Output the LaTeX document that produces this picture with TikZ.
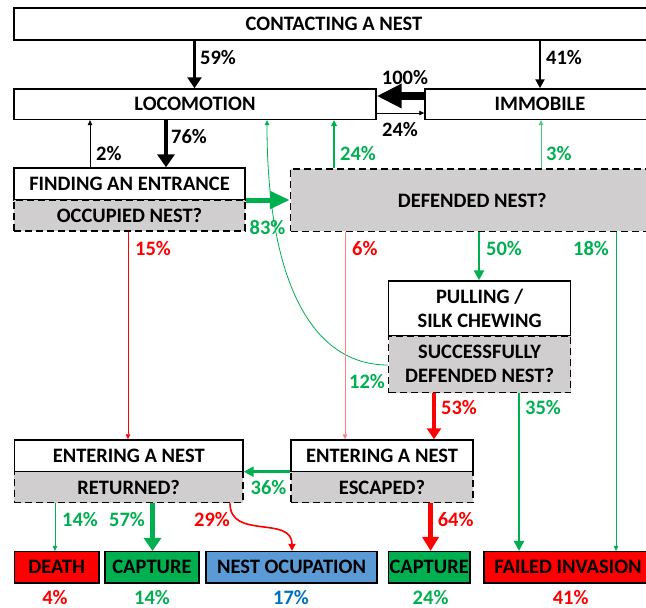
\documentclass[tikz,border=0pt]{standalone}
\usepackage{fontspec}
\setmainfont{Carlito}
\usetikzlibrary{arrows.meta,calc}
\definecolor{gr}{HTML}{00B050}
\definecolor{lgr}{HTML}{4CC985}
\definecolor{rd}{HTML}{FF0000}
\definecolor{lrd}{HTML}{FF8080}
\definecolor{bl}{HTML}{0070C0}
\definecolor{blfill}{HTML}{5B9BD5}
\definecolor{gy}{HTML}{D0CECE}
\begin{document}
\begin{tikzpicture}[x=1pt,y=-1pt,
  box/.style={draw, line width=1.4pt, inner sep=0pt, align=center,
    font=\fontsize{20.5}{24}\selectfont\bfseries},
  qbox/.style={box, fill=gy, dash pattern=on 7pt off 4pt},
  endbox/.style={box, minimum height=31.3pt},
  lab/.style={anchor=west, inner sep=0pt, font=\fontsize{20.5}{24}\selectfont\bfseries},
  clab/.style={anchor=center, inner sep=0pt, font=\fontsize{20.5}{24}\selectfont\bfseries},
  ln/.style={line width=0.8pt, -{Triangle[length=5pt,width=4.5pt]}},
  md/.style={line width=2.2pt, -{Triangle[length=9pt,width=9pt]}},
  tk/.style={line width=3.2pt, -{Triangle[length=11pt,width=14pt]}},
  vtk/.style={line width=4.2pt, -{Triangle[length=13pt,width=17pt]}}]
\useasboundingbox (0,0) rectangle (646,608);
\fill[white] (0,0) rectangle (646,608);

% boxes
\node[box, minimum width=646pt, minimum height=32pt] (top) at (337,24) {\hspace*{-6pt}CONTACTING A NEST};
\node[box, minimum width=362pt, minimum height=30.5pt] (loc) at (195,104.2) {LOCOMOTION};
\node[box, minimum width=235pt, minimum height=30.5pt] (imm) at (542.5,104.2) {\hspace*{-5pt}IMMOBILE};
\node[box, minimum width=231pt, minimum height=32pt] (find) at (129.5,184) {FINDING AN ENTRANCE};
\node[qbox, minimum width=231pt, minimum height=31pt] (occ) at (129.5,215.5) {OCCUPIED NEST?};
\node[qbox, minimum width=369.5pt, minimum height=62.5pt] (def) at (475.25,200.2) {\hspace*{-6pt}DEFENDED NEST?};
\node[box, minimum width=182.2pt, minimum height=55pt] (pull) at (479.6,308.5) {PULLING /\\SILK CHEWING};
\node[qbox, minimum width=182.2pt, minimum height=56.7pt] (succ) at (479.6,364.3) {SUCCESSFULLY\\DEFENDED NEST?};
\node[box, minimum width=228.6pt, minimum height=31.7pt] (entl) at (128.7,455.8) {ENTERING A NEST};
\node[qbox, minimum width=228.6pt, minimum height=31pt] (ret) at (128.7,487.2) {RETURNED?};
\node[box, minimum width=182pt, minimum height=31.7pt] (entr) at (382,455.8) {ENTERING A NEST};
\node[qbox, minimum width=182pt, minimum height=31pt] (esc) at (382,487.2) {ESCAPED?};

\node[endbox, fill=rd, minimum width=84.6pt] (death) at (56.7,567.3) {DEATH};
\node[endbox, fill=gr, minimum width=94pt] (cap1) at (152,567.3) {CAPTURE};
\node[endbox, fill=blfill, minimum width=171pt] (nest) at (291.5,567.3) {NEST OCUPATION};
\node[endbox, fill=gr, minimum width=81.5pt] (cap2) at (429.2,567.3) {CAPTURE};
\node[endbox, fill=rd, minimum width=176pt] (fail) at (572,567.3) {\hspace*{-8pt}FAILED INVASION};

% black arrows
\draw[tk] (top.south -| 194.5,0) -- (loc.north -| 194.5,0);
\node[lab] (l59) at (200,58) {59\%};
\draw[md] (top.south -| 540,0) -- (imm.north -| 540,0);
\node[lab] (l41) at (546,58) {41\%};
\draw[line width=8pt, -{Triangle[length=25pt,width=23pt]}] (imm.west |- 0,96) -- (loc.east |- 0,96);
\node[clab] (l100) at (405,78) {100\%};
\draw[ln] (loc.east |- 0,113) -- (imm.west |- 0,113);
\node[clab] (l24b) at (400,130) {24\%};
\draw[vtk] (loc.south -| 166,0) -- (find.north -| 166,0);
\node[lab] (l76) at (171,137) {76\%};
\draw[ln] (find.north -| 90,0) -- (loc.south -| 90,0);
\node[lab] (l2) at (96,154) {2\%};

% green arrows upward
\draw[gr, line width=1.6pt, -{Triangle[length=6pt,width=6pt]}] (def.north -| 334,0) -- (loc.south -| 334,0);
\node[lab, gr] (l24g) at (340,154) {24\%};
\draw[lgr, line width=0.8pt, -{Triangle[length=5pt,width=4.5pt]}] (def.north -| 541,0) -- (imm.south -| 541,0);
\node[lab, gr] (l3) at (546,154) {3\%};
\draw[gr, line width=0.8pt, -{Triangle[length=5pt,width=4.5pt]}] (succ.west |- 0,365) .. controls (312.7,365) and (267,283) .. (loc.south -| 267,0);
\node[lab, gr] (l12) at (349,381.7) {12\%};

% 83%
\draw[gr, line width=5pt, -{Triangle[length=20pt,width=17pt]}] (find.east |- 0,200) -- (def.west |- 0,200);
\node[clab, gr] (l83) at (267.5,228) {83\%};

% from occupied / defended
\draw[rd, ln] (occ.south -| 128,0) -- (entl.north -| 128,0);
\node[lab, rd] (l15) at (135,249) {15\%};
\draw[lrd, ln] (def.south -| 345,0) -- (entr.north -| 345,0);
\node[lab, rd] (l6) at (352,249) {6\%};
\draw[gr, line width=2.6pt, -{Triangle[length=10pt,width=10pt]}] (def.south -| 479,0) -- (pull.north -| 479,0);
\node[lab, gr] (l50) at (486,249) {50\%};
\draw[gr, ln] (def.south -| 616,0) -- (fail.north -| 616,0);
\node[lab, gr] (l18) at (573,249) {18\%};

% from successfully defended
\draw[rd, tk] (succ.south -| 434,0) -- (entr.north -| 434,0);
\node[lab, rd] (l53) at (441,408) {53\%};
\draw[gr, line width=2.8pt, -{Triangle[length=10pt,width=10pt]}] (succ.south -| 519,0) -- (fail.north -| 519,0);
\node[lab, gr] (l35) at (525,408) {35\%};

% 36%
\draw[gr, line width=3pt, -{Triangle[length=10pt,width=10pt]}] (entr.west |- 0,471.7) -- (entl.east |- 0,471.7);
\node[clab, gr] (l36) at (268.5,488) {36\%};

% from returned / escaped
\draw[gr, ln] (ret.south -| 55,0) -- (death.north -| 55,0);
\node[lab, gr] (l14) at (62,520) {14\%};
\draw[gr, vtk] (ret.south -| 152.5,0) -- (cap1.north -| 152.5,0);
\node[lab, gr] (l57) at (109,520) {57\%};
\draw[rd, line width=1.6pt, -{Triangle[length=7pt,width=7pt]}] (ret.south -| 230,0) .. controls (230,540) and (292,515) .. (nest.north -| 292,0);
\node[lab, rd] (l29) at (194,520) {29\%};
\draw[rd, line width=4.5pt, -{Triangle[length=14pt,width=16pt]}] (esc.south -| 430.6,0) -- (cap2.north -| 430.6,0);
\node[lab, rd] (l64) at (437.6,520) {64\%};

% bottom percentages
\node[clab, rd] (p4) at (55,598) {4\%};
\node[clab, gr] (p14) at (152,598) {14\%};
\node[clab, bl] (p17) at (291,598) {17\%};
\node[clab, gr] (p24) at (430.6,598) {24\%};
\node[clab, rd] (p41) at (570.7,598) {41\%};
\end{tikzpicture}
\end{document}
